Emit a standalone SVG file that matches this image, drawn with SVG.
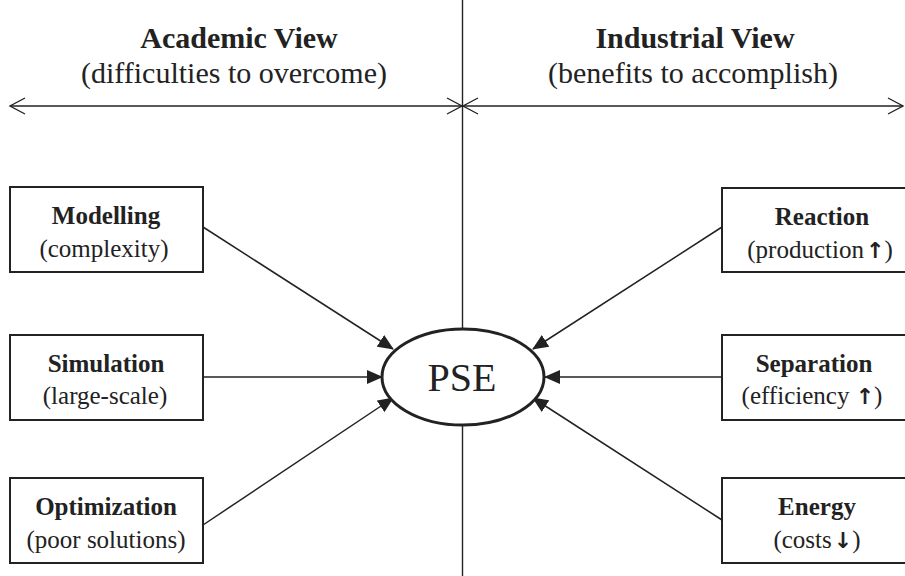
<svg xmlns="http://www.w3.org/2000/svg" width="905" height="576" viewBox="0 0 905 576">
  <style>
    .bg { fill: #ffffff; }
    .box { fill: #ffffff; stroke: #222222; stroke-width: 2; }
    .axis { fill: none; stroke: #222222; stroke-width: 1.4; }
    .edge { fill: none; stroke: #222222; stroke-width: 1.5; marker-end: url(#solidHead); }
    .span { fill: none; stroke: #222222; stroke-width: 1.3; marker-start: url(#openHead); marker-end: url(#openHead); }
    .hub { fill: #ffffff; stroke: #222222; stroke-width: 3; }
    text { font-family: "Liberation Serif", "Times New Roman", serif; fill: #222222; text-anchor: middle; }
    .head { font-size: 30px; font-weight: bold; }
    .sub { font-size: 30px; }
    .title { font-size: 25px; font-weight: bold; }
    .note { font-size: 25px; }
    .trend { font-family: "DejaVu Sans", sans-serif; font-size: 22px; font-weight: bold; }
    .hubLabel { font-size: 40px; }
  </style>
  <defs>
    <marker id="solidHead" viewBox="0 0 16 14" refX="15" refY="7" markerWidth="16" markerHeight="14" markerUnits="userSpaceOnUse" orient="auto">
      <path d="M0,0 L16,7 L0,14 z" fill="#222222"/>
    </marker>
    <marker id="openHead" viewBox="-17 -10 18 20" refX="0" refY="0" markerWidth="18" markerHeight="20" markerUnits="userSpaceOnUse" orient="auto-start-reverse">
      <path d="M-15,-8 L0,0 L-15,8" fill="none" stroke="#222222" stroke-width="1.3"/>
    </marker>
  </defs>

  <rect class="bg" x="0" y="0" width="905" height="576"/>

  <!-- quadrant axes -->
  <g id="axes">
    <line class="axis" x1="462.5" y1="0" x2="462.5" y2="576"/>
    <line class="span" x1="10" y1="106" x2="462" y2="106"/>
    <line class="span" x1="463" y1="106" x2="903" y2="106"/>
  </g>

  <!-- column headings -->
  <g id="academic-heading">
    <text class="head" x="239" y="48">Academic View</text>
    <text class="sub" x="234" y="83">(difficulties to overcome)</text>
  </g>
  <g id="industrial-heading">
    <text class="head" x="695" y="48">Industrial View</text>
    <text class="sub" x="693" y="83">(benefits to accomplish)</text>
  </g>

  <!-- connectors into the hub -->
  <g id="connectors">
    <line class="edge" x1="203" y1="227" x2="393" y2="349"/>
    <line class="edge" x1="203" y1="377" x2="382" y2="377"/>
    <line class="edge" x1="203" y1="525" x2="393" y2="398"/>
    <line class="edge" x1="722" y1="227" x2="533" y2="349"/>
    <line class="edge" x1="722" y1="377" x2="545" y2="377"/>
    <line class="edge" x1="722" y1="520" x2="533" y2="398"/>
  </g>

  <!-- hub -->
  <g id="pse">
    <ellipse class="hub" cx="463" cy="377" rx="81" ry="48"/>
    <text class="hubLabel" x="462" y="391">PSE</text>
  </g>

  <!-- academic side -->
  <g id="modelling">
    <rect class="box" x="10" y="187" width="193" height="85"/>
    <text class="title" x="106" y="224">Modelling</text>
    <text class="note" x="104" y="257">(complexity)</text>
  </g>
  <g id="simulation">
    <rect class="box" x="10" y="335" width="193" height="85"/>
    <text class="title" x="106" y="372">Simulation</text>
    <text class="note" x="105" y="404">(large-scale)</text>
  </g>
  <g id="optimization">
    <rect class="box" x="10" y="478" width="193" height="85"/>
    <text class="title" x="106" y="515">Optimization</text>
    <text class="note" x="106" y="548">(poor solutions)</text>
  </g>

  <!-- industrial side -->
  <g id="reaction">
    <rect class="box" x="722" y="188" width="193" height="84"/>
    <text class="title" x="822" y="225">Reaction</text>
    <text class="note" x="820" y="258">(production<tspan class="trend" dx="2">↑</tspan>)</text>
  </g>
  <g id="separation">
    <rect class="box" x="722" y="335" width="193" height="85"/>
    <text class="title" x="814" y="372">Separation</text>
    <text class="note" x="812" y="404">(efficiency <tspan class="trend">↑</tspan>)</text>
  </g>
  <g id="energy">
    <rect class="box" x="722" y="478" width="193" height="85"/>
    <text class="title" x="817" y="515">Energy</text>
    <text class="note" x="817" y="548">(costs<tspan class="trend" dx="2">↓</tspan>)</text>
  </g>
</svg>
